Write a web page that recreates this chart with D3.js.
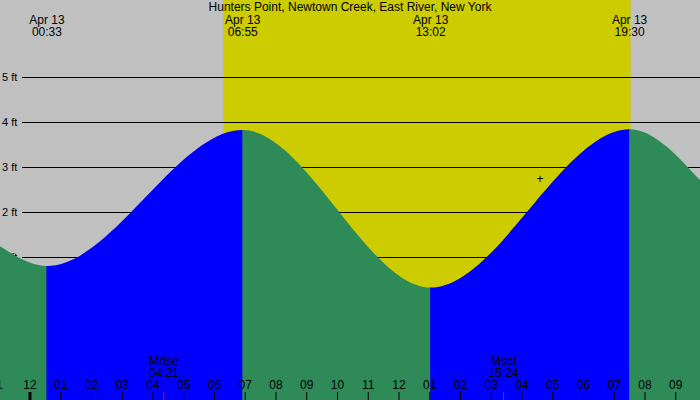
<!DOCTYPE html>
<html><head><meta charset="utf-8">
<script src="https://cdn.jsdelivr.net/npm/d3@7"></script>
<style>body{margin:0;background:#c0c0c0}text{font-family:"Liberation Sans","DejaVu Sans",sans-serif;fill:#000}</style>
</head><body><div id="chart"></div>
<script>
// hours since midnight Apr 13, tide height in ft
var tideHours = [-0.98, 0.55, 6.92, 13.03, 19.5, 21.8];
var tideFeet = [1.24, 0.8, 3.82, 0.32, 3.84, 2.7];
var eventLabels = ['00:33', '06:55', '13:02', '19:30'];
var eventHours = [0.55, 6.92, 13.03, 19.5];
var levelTicks = [0, 1, 2, 3, 4, 5];
var hourTicks = [-1, 0, 1, 2, 3, 4, 5, 6, 7, 8, 9, 10, 11, 12, 13, 14, 15, 16, 17, 18, 19, 20, 21];
var sunHours = [6.28, 19.53];
var moonHours = [4.35, 15.4];
var moonNames = ['Mrise', 'Mset'];
var moonTimes = ['04:21', '15:24'];

var W = 700, H = 400;
var x = d3.scaleLinear().domain([0, 1]).range([30, 60.75]);
var y = d3.scaleLinear().domain([0, 1]).range([302, 257]);

var svg = d3.select('#chart').append('svg').attr('width', W).attr('height', H);
svg.append('rect').attr('width', W).attr('height', H).attr('fill', '#c0c0c0');
svg.append('rect').attr('x', x(sunHours[0])).attr('width', x(sunHours[1]) - x(sunHours[0]))
	.attr('y', 0).attr('height', H).attr('fill', '#cccc00');

// grid
svg.selectAll('line.grid').data(levelTicks).enter().append('line')
	.attr('x1', 22).attr('x2', W).attr('y1', function(d){ return y(d) + 0.5; }).attr('y2', function(d){ return y(d) + 0.5; })
	.attr('stroke', '#000').attr('stroke-width', 1);
svg.selectAll('text.lvl').data(levelTicks).enter().append('text')
	.attr('x', 2).attr('y', function(d){ return y(d) + 4; }).attr('font-size', 11)
	.text(function(d){ return d + ' ft'; });

// tide area, coloured by rising / falling segments
var pts = tideHours.map(function(h, i){ return [h, tideFeet[i]]; });
var area = d3.area().x(function(d){ return x(d[0]); }).y0(H).y1(function(d){ return y(d[1]); })
	.curve(d3.curveMonotoneX);
var defs = svg.append('defs');
for (var i = 0; i < pts.length - 1; ++i) {
	var id = 'seg' + i;
	var x0 = x(pts[i][0]), x1 = x(pts[i + 1][0]);
	defs.append('clipPath').attr('id', id).append('rect')
		.attr('x', x0 - 0.5).attr('width', x1 - x0 + 1).attr('y', 0).attr('height', H);
	svg.append('path').datum(pts).attr('d', area).attr('clip-path', 'url(#' + id + ')')
		.attr('fill', pts[i + 1][1] > pts[i][1] ? '#0000ff' : '#2e8b57');
}

// title and event labels
svg.append('text').attr('x', 350).attr('y', 11).attr('text-anchor', 'middle').attr('font-size', 12)
	.text('Hunters Point, Newtown Creek, East River, New York');
eventHours.forEach(function(h, i){
	svg.append('text').attr('x', x(h)).attr('y', 24).attr('text-anchor', 'middle').attr('font-size', 12).text('Apr 13');
	svg.append('text').attr('x', x(h)).attr('y', 36).attr('text-anchor', 'middle').attr('font-size', 12).text(eventLabels[i]);
});

// hour axis
var hourFmt = function(h){ var v = ((h % 12) + 12) % 12; if (v === 0) v = 12; return (v < 10 ? '0' : '') + v; };
hourTicks.forEach(function(h){
	svg.append('line').attr('x1', x(h)).attr('x2', x(h)).attr('y1', 392).attr('y2', H)
		.attr('stroke', '#000').attr('stroke-width', h === 0 ? 3 : 1);
	var lbl = hourFmt(h);
	if (h === -1) lbl = '1';
	svg.append('text').attr('x', x(h)).attr('y', 389).attr('text-anchor', 'middle').attr('font-size', 12).text(lbl);
});
moonHours.forEach(function(h, i){
	svg.append('line').attr('x1', x(h)).attr('x2', x(h)).attr('y1', 392).attr('y2', H).attr('stroke', '#f00');
	svg.append('text').attr('x', x(h)).attr('y', 365).attr('text-anchor', 'middle').attr('font-size', 12).text(moonNames[i]);
	svg.append('text').attr('x', x(h)).attr('y', 377).attr('text-anchor', 'middle').attr('font-size', 12).text(moonTimes[i]);
});
svg.append('text').attr('x', 540).attr('y', 183).attr('text-anchor', 'middle').attr('font-size', 12).text('+');
</script></body></html>
